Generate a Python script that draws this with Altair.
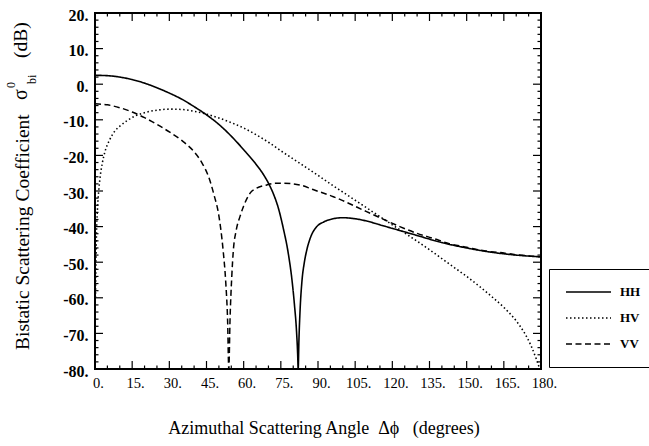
import altair as alt
import pandas as pd

# ---- data -----------------------------------------------------------------
series = ["HH", "HV", "VV"]

hh_angle = [0, 5, 10, 15, 20, 25, 30, 35, 40, 45, 50, 55, 60, 65, 68, 70, 72,
            74, 76, 78, 79.5, 80.5, 81.3, 81.8, 82, 82.3, 82.8, 83.5, 84.5,
            85.5, 87, 89.5, 92, 96, 100, 105, 110, 115, 120, 130, 140, 150,
            160, 170, 180]
hh_db = [2.5, 2.4, 2.0, 1.3, 0.3, -1.0, -2.5, -4.2, -6.3, -8.6, -11.3, -14.6,
         -18.4, -22.5, -25.4, -27.8, -30.8, -34.8, -40.5, -47.5, -55, -62,
         -69, -76, -80, -72, -63, -55.5, -50, -46.5, -43, -40, -38.8, -37.8,
         -37.5, -37.8, -38.5, -39.5, -40.5, -42.5, -44.5, -46.0, -47.2, -48.0,
         -48.5]

hv_angle = [0.2, 0.5, 1, 1.5, 2, 3, 4, 6, 8, 10, 13, 16, 20, 25, 30, 35, 40,
            45, 50, 55, 60, 65, 70, 75, 80, 85, 90, 95, 100, 105, 110, 115,
            120, 125, 130, 135, 140, 145, 150, 155, 160, 165, 170, 173, 176,
            178, 179.5]
hv_db = [-60, -45, -35, -30, -26.5, -22, -19, -15.5, -13.2, -11.8, -10.2,
         -9.0, -8.0, -7.3, -7.0, -7.1, -7.6, -8.4, -9.5, -10.8, -12.3, -14.2,
         -16.3, -18.7, -21.0, -23.3, -25.6, -28.0, -30.3, -32.6, -34.9, -37.2,
         -39.5, -41.8, -44.1, -46.5, -49.0, -51.5, -54.0, -56.7, -59.6, -62.7,
         -66.5, -69.5, -73.5, -77, -80]

vv_angle = [0, 5, 10, 15, 20, 25, 30, 35, 40, 43, 46, 48, 50, 51.7, 52.8,
            53.5, 54, 54.5, 55.2, 55.8, 57, 58.5, 60, 62.6, 65, 69.3, 73, 76,
            82.7, 88, 96.2, 100, 109.6, 115, 123, 130, 136.5, 143, 150, 157,
            163.5, 170, 180]
vv_db = [-5.5, -5.8, -6.6, -7.8, -9.4, -11.3, -13.4, -15.8, -19.0, -21.9,
         -26.3, -31.0, -37, -46.6, -56, -66, -80, -66, -54, -47, -41, -37.2,
         -34.2, -30.6, -29.3, -28.3, -27.8, -27.8, -28.3, -29.6, -31.6, -32.7,
         -35.8, -37.5, -40.0, -41.9, -43.3, -44.8, -45.8, -46.8, -47.3, -47.9,
         -48.5]

x_major = list(range(0, 181, 15))
x_minor = [v for v in range(0, 181, 5) if v % 15]
y_major = list(range(-80, 21, 10))
y_minor = [v for v in range(-80, 21, 2) if v % 10]

# ---- layout ---------------------------------------------------------------
W, H = 446, 356
FONT = "Liberation Serif"
MAJ, MIN = 8, 3.5

curves = pd.concat([
    pd.DataFrame({"angle": hh_angle, "db": hh_db, "series": "HH"}),
    pd.DataFrame({"angle": hv_angle, "db": hv_db, "series": "HV"}),
    pd.DataFrame({"angle": vv_angle, "db": vv_db, "series": "VV"}),
], ignore_index=True)

x_scale = alt.Scale(domain=[0, 180], nice=False, zero=False)
y_scale = alt.Scale(domain=[-80, 20], nice=False, zero=False)

x_axis = alt.Axis(
    values=x_major, labelExpr="datum.value + '.'", ticks=False,
    domain=False, grid=False, labelFont=FONT, labelFontSize=14.5,
    labelColor="black", labelPadding=7, labelOffset=3,
    labelFlush=False, labelOverlap=False,
    title="Azimuthal Scattering Angle\u00a0 \u0394\u03d5\u00a0\u00a0 (degrees)",
    titleFont=FONT, titleFontSize=18, titleFontWeight="normal",
    titleColor="black", titleX=228.5, titleY=64,
    titleBaseline="alphabetic", titleAnchor="middle", titleAlign="center")
y_axis = alt.Axis(
    values=y_major, labelExpr="datum.value + '.'", ticks=False,
    domain=False, grid=False, labelFont=FONT, labelFontSize=16,
    labelFontWeight="bold", labelColor="black", labelPadding=7,
    labelOffset=2, labelFlush=False, labelOverlap=False, title=None)

lines = alt.Chart(curves).mark_line(
    interpolate="monotone", clip=True, color="black"
).encode(
    x=alt.X("angle:Q", scale=x_scale, axis=x_axis),
    y=alt.Y("db:Q", scale=y_scale, axis=y_axis),
    strokeDash=alt.StrokeDash("series:N", scale=alt.Scale(
        domain=series, range=[[1, 0], [1.5, 2.5], [6, 3.5]]),
        legend=alt.Legend(
            title=None, orient="none", legendX=454, legendY=256,
            symbolType="stroke", symbolSize=2025, symbolStrokeWidth=1.5,
            symbolStrokeColor="black", clipHeight=14,
            labelFont=FONT, labelFontSize=13,
            labelFontWeight="bold", labelColor="black", labelOffset=8,
            padding=16, rowPadding=12, strokeColor="black")),
    strokeWidth=alt.StrokeWidth("series:N", scale=alt.Scale(
        domain=series, range=[1.6, 1.5, 2.0]), legend=None),
)


def tick_layer(values, orient, length):
    df = pd.DataFrame({"v": values})
    base = alt.Chart(df).mark_rule(color="black", strokeWidth=1.2)
    if orient == "bottom":
        return base.encode(x=alt.X("v:Q", scale=x_scale, axis=x_axis),
                           y=alt.value(H), y2=alt.value(H - length))
    if orient == "top":
        return base.encode(x=alt.X("v:Q", scale=x_scale, axis=x_axis),
                           y=alt.value(0), y2=alt.value(length))
    if orient == "left":
        return base.encode(y=alt.Y("v:Q", scale=y_scale, axis=y_axis),
                           x=alt.value(0), x2=alt.value(length))
    return base.encode(y=alt.Y("v:Q", scale=y_scale, axis=y_axis),
                       x=alt.value(W), x2=alt.value(W - length))


ticks = [
    tick_layer(x_major, "bottom", MAJ), tick_layer(x_minor, "bottom", MIN),
    tick_layer(x_major, "top", MAJ), tick_layer(x_minor, "top", MIN),
    tick_layer(y_major, "left", MAJ), tick_layer(y_minor, "left", MIN),
    tick_layer(y_major, "right", MAJ), tick_layer(y_minor, "right", MIN),
]


def vtext(text, x, y, size, weight="normal"):
    return alt.Chart(pd.DataFrame({"t": [text]})).mark_text(
        angle=270, align="left", baseline="alphabetic", font=FONT,
        fontSize=size, fontWeight=weight, color="black"
    ).encode(text="t:N", x=alt.value(x), y=alt.value(y))


y_title = [
    vtext("Bistatic Scattering Coefficient", -66, 337, 19.5),
    vtext("\u03c3", -68, 87, 20),
    vtext("0", -80, 75, 12),
    vtext("bi", -59, 71, 12),
    vtext("(dB)", -68, 45, 19.5),
]

chart = alt.layer(lines, *ticks, *y_title).properties(
    width=W, height=H,
    autosize=alt.AutoSizeParams(type="none"),
    padding={"left": 95, "top": 13, "right": 108, "bottom": 77},
    background="white",
).configure_view(stroke="black", strokeWidth=2)

chart.save("out.html", embed_options={"renderer": "svg", "actions": False})
